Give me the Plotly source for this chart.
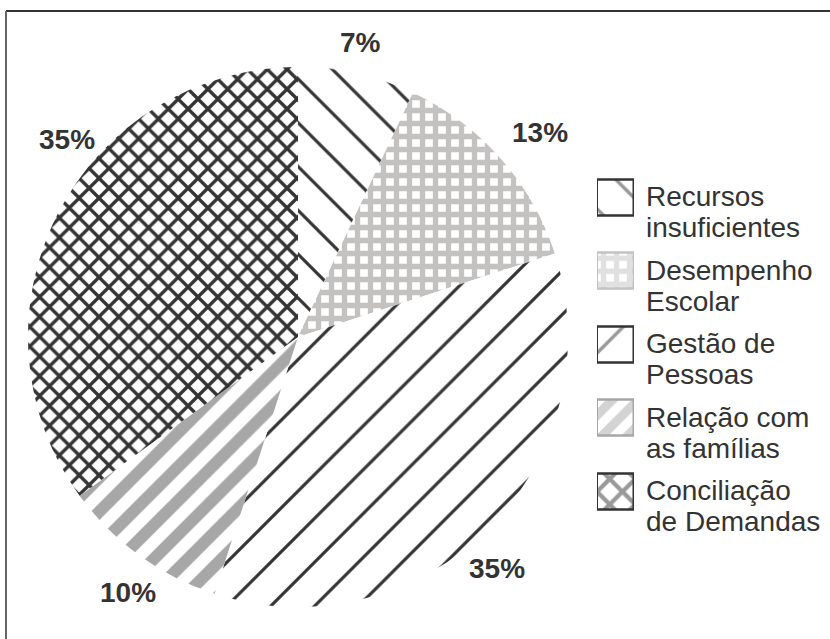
import plotly.graph_objects as go

W, H = 830, 639

categories = ["Recursos<br>insuficientes", "Desempenho<br>Escolar", "Gestão de<br>Pessoas",
              "Relação com<br>as famílias", "Conciliação<br>de Demandas"]
values = [7, 13, 35, 10, 35]

pattern_shapes = ["\\", "+", "/", "/", "x"]
pattern_fg = ["#333333", "#c4c1c1", "#333333", "#a7a7a7", "#333333"]
pattern_size = [31, 13, 31, 24, 14]
pattern_solid = [0.1, 0.65, 0.1, 0.5, 0.42]
swatch_border = ["#333333", "#c4c1c1", "#333333", "#a7a7a7", "#333333"]
swatch_pattern_size = [34, 13, 34, 18, 18]

# label anchor positions in pixels (layout only)
label_px = [(360, 43), (540, 132), (497, 568), (128, 592), (67, 139)]

FONT = "Liberation Sans, Arial, Helvetica, sans-serif"


def px(x):
    return x / W


def py(y):
    return 1 - y / H


fig = go.Figure()
fig.add_trace(go.Pie(
    labels=[c.replace("<br>", " ") for c in categories],
    values=values,
    sort=False,
    direction="clockwise",
    rotation=0,
    textinfo="none",
    hoverinfo="label+percent",
    showlegend=False,
    marker=dict(
        colors=["white"] * len(values),
        line=dict(width=0),
        pattern=dict(shape=pattern_shapes, fgcolor=pattern_fg, size=pattern_size,
                     solidity=pattern_solid, fillmode="replace"),
    ),
    domain=dict(x=[px(28), px(568)], y=[py(607), py(67)]),
))

# legend swatches: one square bar per category
n = len(categories)
for i in range(n):
    fig.add_trace(go.Bar(
        x=[1],
        y=[i],
        orientation="h",
        width=0.49,
        showlegend=False,
        hoverinfo="skip",
        marker=dict(
            color="white",
            line=dict(color=swatch_border[i], width=2.5),
            pattern=dict(shape=pattern_shapes[i], fgcolor=pattern_fg[i], bgcolor="white",
                         size=swatch_pattern_size[i], solidity=pattern_solid[i]),
        ),
    ))

pitch = 73.5
first_center = 197.5
for i, cat in enumerate(categories):
    lines = cat.split("<br>")
    for j, line in enumerate(lines):
        fig.add_annotation(x=px(644), y=py(first_center - 1 + i * pitch + j * 31),
                           xref="paper", yref="paper", xanchor="left", yanchor="middle",
                           text=line, showarrow=False,
                           font=dict(size=28, color="#333333", family=FONT))

for v, (lx, ly) in zip(values, label_px):
    fig.add_annotation(x=px(lx), y=py(ly), xref="paper", yref="paper",
                       xanchor="center", yanchor="middle",
                       text=f"<b>{v}%</b>", showarrow=False,
                       font=dict(size=28, color="#333333", family=FONT))

fig.add_shape(type="line", xref="paper", yref="paper", x0=px(6), x1=1, y0=py(11), y1=py(11),
              line=dict(color="#333333", width=2))
fig.add_shape(type="line", xref="paper", yref="paper", x0=px(6), x1=px(6), y0=py(11), y1=0,
              line=dict(color="#666666", width=2))

fig.update_layout(
    width=W, height=H,
    margin=dict(l=0, r=0, t=0, b=0),
    paper_bgcolor="white",
    plot_bgcolor="rgba(0,0,0,0)",
    font=dict(family=FONT, color="#333333"),
    showlegend=False,
    barmode="overlay",
    bargap=0,
    xaxis=dict(domain=[px(597), px(634)], range=[0, 1], visible=False, fixedrange=True),
    yaxis=dict(domain=[py(first_center + (n - 0.5) * pitch), py(first_center - 0.5 * pitch)],
               range=[n - 0.5, -0.5], visible=False, fixedrange=True),
)

fig.write_html("out.html")
